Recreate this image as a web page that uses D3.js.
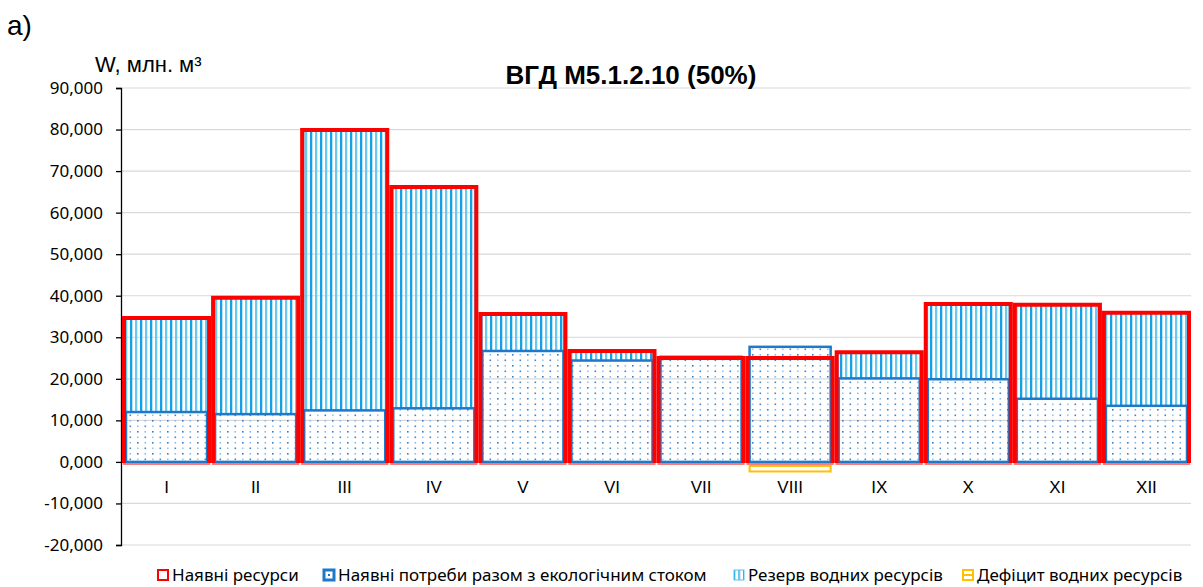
<!DOCTYPE html>
<html>
<head>
<meta charset="utf-8">
<script src="https://cdn.jsdelivr.net/npm/d3@7"></script>
<style>
  body { margin: 0; background: #fff; }
  text { font-family: "Noto Sans", "Liberation Sans", sans-serif; }
</style>
</head>
<body>
<div id="chart"></div>
<script>
// month labels
var months = ["I", "II", "III", "IV", "V", "VI", "VII", "VIII", "IX", "X", "XI", "XII"];
// млн. м³
var resources = [34.65, 39.5, 79.9, 66.2, 35.6, 26.7, 25.0, 25.0, 26.4, 38.0, 37.8, 35.9];
var needs     = [12.0, 11.5, 12.4, 12.9, 26.7, 24.4, 25.3, 27.7, 20.1, 19.9, 15.2, 13.5];
var reserve   = [22.65, 28.0, 67.5, 53.3, 8.9, 2.3, 0, 0, 6.3, 18.1, 22.6, 22.4];
var deficit   = [0, 0, 0, 0, 0, 0, 0, -2.3, 0, 0, 0, 0];
var yTicks = [-20, -10, 0, 10, 20, 30, 40, 50, 60, 70, 80, 90];
var seriesNames = ["Наявні ресурси", "Наявні потреби разом з екологічним стоком",
                   "Резерв водних ресурсів", "Дефіцит водних ресурсів"];

var W = 1203, H = 587;
var plotL = 122, plotR = 1191, plotT = 88, plotB = 545;

var svg = d3.select("#chart").append("svg")
    .attr("width", W)
    .attr("height", H);

var defs = svg.append("defs");

// dotted fill for needs (transparent background, grid shows through)
var dots = defs.append("pattern")
    .attr("id", "dots")
    .attr("patternUnits", "userSpaceOnUse")
    .attr("width", 15).attr("height", 11);
[[2, 2, "#2f7fc8"], [9.5, 2, "#8dbbe6"], [2, 7.5, "#9cc4ea"], [9.5, 7.5, "#3b86cc"]].forEach(function(p) {
  dots.append("rect").attr("x", p[0]).attr("y", p[1]).attr("width", 1.6).attr("height", 1.6).attr("fill", p[2]);
});

// vertical stripes for reserve
var stripes = defs.append("pattern")
    .attr("id", "stripes")
    .attr("patternUnits", "userSpaceOnUse")
    .attr("width", 10).attr("height", 20);
stripes.append("rect").attr("x", 0).attr("width", 2.3).attr("height", 20).attr("fill", "#12a0e6");
stripes.append("rect").attr("x", 5).attr("width", 2.3).attr("height", 20).attr("fill", "#6cc8f0");

var x = d3.scaleBand()
    .domain(months)
    .range([plotL, plotR])
    .padding(0);

var y = d3.scaleLinear()
    .domain([-20, 90])
    .range([plotB, plotT]);

var ua = d3.formatLocale({decimal: ",", thousands: " ", grouping: [3], currency: ["", ""], minus: "-"});
var fmt = ua.format(".3f");

// gridlines
svg.append("g")
  .selectAll("line")
  .data(yTicks)
  .enter()
  .append("line")
    .attr("x1", plotL)
    .attr("x2", plotR)
    .attr("y1", function(d) { return y(d); })
    .attr("y2", function(d) { return y(d); })
    .attr("stroke", "#d9d9d9")
    .attr("stroke-width", 1.2);

// y axis
var yAxis = svg.append("g")
    .attr("transform", "translate(" + (plotL - 1) + ",0)")
    .call(d3.axisLeft(y).tickValues(yTicks).tickFormat(fmt).tickSize(5).tickPadding(13));
yAxis.select(".domain").attr("stroke", "#000").attr("stroke-width", 1.3);
yAxis.selectAll(".tick line").attr("stroke", "#000").attr("stroke-width", 1.3);
yAxis.selectAll("text")
    .attr("fill", "#000")
    .style("font-size", "17px")
    .style("font-family", "'Noto Sans', sans-serif");

// reserve (stacked on needs)
svg.append("g")
  .selectAll("rect")
  .data(months)
  .enter()
  .append("rect")
    .attr("x", function(d) { return x(d) + 4; })
    .attr("width", x.bandwidth() - 8)
    .attr("y", function(d, i) { return y(needs[i] + reserve[i]); })
    .attr("height", function(d, i) { return y(needs[i]) - y(needs[i] + reserve[i]); })
    .attr("fill", "url(#stripes)")
    .attr("stroke", "#5fc3f0")
    .attr("stroke-width", function(d, i) { return reserve[i] > 0 ? 1 : 0; });

// needs
svg.append("g")
  .selectAll("rect")
  .data(months)
  .enter()
  .append("rect")
    .attr("x", function(d) { return x(d) + 4; })
    .attr("width", x.bandwidth() - 8)
    .attr("y", function(d, i) { return y(needs[i]); })
    .attr("height", function(d, i) { return y(0) - y(needs[i]); })
    .attr("fill", "url(#dots)")
    .attr("stroke", "#1f78c8")
    .attr("stroke-width", 2.5);

// deficit
svg.append("g")
  .selectAll("rect")
  .data(months)
  .enter()
  .append("rect")
    .attr("x", function(d) { return x(d) + 4; })
    .attr("width", x.bandwidth() - 8)
    .attr("y", function(d, i) { return y(0) + 4; })
    .attr("height", function(d, i) { return Math.max(0, y(deficit[i]) - y(0) - 4); })
    .attr("fill", "#fff")
    .attr("stroke", "#ffc000")
    .attr("stroke-width", function(d, i) { return deficit[i] < 0 ? 2 : 0; });

// resources: thin bottom line + thick outline
svg.append("g")
  .selectAll("line")
  .data(months)
  .enter()
  .append("line")
    .attr("x1", function(d) { return x(d) + 1; })
    .attr("x2", function(d) { return x(d) + x.bandwidth() - 1; })
    .attr("y1", y(0) + 2)
    .attr("y2", y(0) + 2)
    .attr("stroke", "#ff5050")
    .attr("stroke-width", 1.5);

svg.append("g")
  .selectAll("path")
  .data(months)
  .enter()
  .append("path")
    .attr("d", function(d, i) {
      var x0 = x(d) + 2, x1 = x(d) + x.bandwidth() - 2;
      return "M" + x0 + "," + (y(0) + 1) + "V" + y(resources[i]) + "H" + x1 + "V" + (y(0) + 1);
    })
    .attr("fill", "none")
    .attr("stroke", "#ff0000")
    .attr("stroke-width", 4);

// category labels
svg.append("g")
  .selectAll("text")
  .data(months)
  .enter()
  .append("text")
    .attr("x", function(d) { return x(d) + x.bandwidth() / 2; })
    .attr("y", y(-7.5))
    .attr("text-anchor", "middle")
    .style("font-size", "17px")
    .style("font-family", "'Liberation Sans', sans-serif")
    .text(function(d) { return d; });

// title and labels
svg.append("text")
    .attr("x", 631)
    .attr("y", 84)
    .attr("text-anchor", "middle")
    .style("font-size", "26px")
    .style("font-weight", "bold")
    .style("font-family", "'Liberation Sans', sans-serif")
    .text("ВГД М5.1.2.10 (50%)");

svg.append("text")
    .attr("x", 95)
    .attr("y", 72)
    .style("font-size", "22px")
    .style("font-family", "'Liberation Sans', sans-serif")
    .text("W, млн. м³");

svg.append("text")
    .attr("x", 7)
    .attr("y", 35)
    .style("font-size", "28px")
    .style("font-family", "'Liberation Sans', sans-serif")
    .text("а)");

// legend
var legendX = [157, 323, 733, 962];
var lg = svg.append("g")
  .selectAll("g")
  .data(seriesNames)
  .enter()
  .append("g")
    .attr("transform", function(d, i) { return "translate(" + legendX[i] + ",569)"; });

lg.append("text")
    .attr("x", 15)
    .attr("y", 12)
    .style("font-size", "17px")
    .text(function(d) { return d; });

lg.filter(function(d, i) { return i === 0; }).append("rect")
    .attr("x", 1).attr("y", 1).attr("width", 10).attr("height", 10)
    .attr("fill", "#fff").attr("stroke", "#ff0000").attr("stroke-width", 2);
lg.filter(function(d, i) { return i === 1; }).append("rect")
    .attr("x", 1).attr("y", 1).attr("width", 10).attr("height", 10)
    .attr("fill", "#fff").attr("stroke", "#1f78c8").attr("stroke-width", 3);
lg.filter(function(d, i) { return i === 1; }).append("rect")
    .attr("x", 5).attr("y", 5).attr("width", 2).attr("height", 2).attr("fill", "#1f78c8");
lg.filter(function(d, i) { return i === 2; }).append("rect")
    .attr("x", 1).attr("y", 1).attr("width", 10).attr("height", 10)
    .attr("fill", "url(#stripes)").attr("stroke", "#5fc3f0").attr("stroke-width", 1);
lg.filter(function(d, i) { return i === 3; }).append("rect")
    .attr("x", 1).attr("y", 1).attr("width", 10).attr("height", 10)
    .attr("fill", "#fff").attr("stroke", "#ffc000").attr("stroke-width", 2);
lg.filter(function(d, i) { return i === 3; }).append("rect")
    .attr("x", 1).attr("y", 5).attr("width", 10).attr("height", 2).attr("fill", "#ffc000");
</script>
</body>
</html>
